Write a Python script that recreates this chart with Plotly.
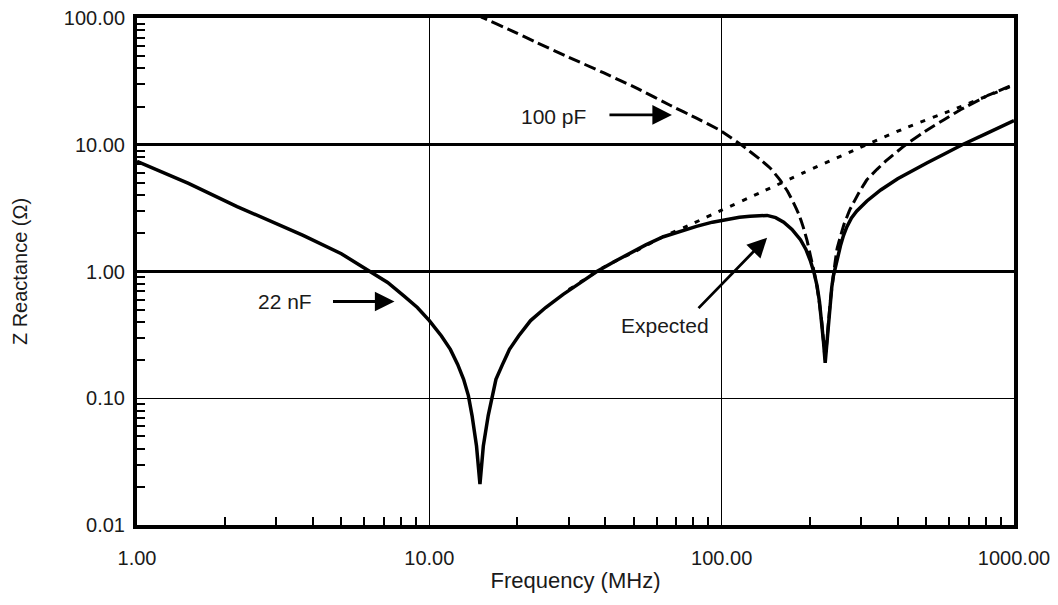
import numpy as np
import plotly.graph_objects as go

# ---------------- data ----------------
freq_meas = [1.0, 1.5, 2.2, 3.0, 3.7, 5.0, 6.3, 7.2, 8.2, 9.1, 10.0, 11.0, 11.8, 12.5, 13.1,
             13.6, 14.0, 14.5, 14.9, 15.3, 15.9, 16.4, 16.9, 17.8, 18.8, 20.2, 22.2, 25.0, 28.7,
             33.0, 37.4, 43.0, 48.6, 55.0, 63.2, 72.0, 82, 93, 105, 115, 125, 135, 143, 153, 163,
             174, 186, 194, 201, 207, 212, 216, 220, 223, 226, 229, 232, 235, 238, 241,
             245, 250, 255, 261, 268, 278, 290, 314, 350, 400, 450, 505, 580, 665, 800, 1000]
z_meas = [7.4, 4.95, 3.25, 2.4, 1.93, 1.38, 1.0, 0.82, 0.64, 0.52, 0.41, 0.31, 0.243, 0.185, 0.141,
          0.105, 0.073, 0.042, 0.021, 0.042, 0.073, 0.105, 0.141, 0.185, 0.243, 0.31, 0.41, 0.52, 0.66,
          0.82, 1.0, 1.2, 1.40, 1.62, 1.88, 2.08, 2.27, 2.45, 2.6, 2.68, 2.73, 2.77, 2.77, 2.66, 2.45,
          2.15, 1.78, 1.5, 1.22, 0.98, 0.77, 0.58, 0.40, 0.28, 0.19, 0.28, 0.40, 0.56, 0.75, 0.92,
          1.1, 1.35, 1.6, 1.92, 2.25, 2.65, 3.0, 3.6, 4.4, 5.4, 6.3, 7.2, 8.5, 10.0, 12.2, 15.5]

freq_100p = [14.5, 15.3, 19.0, 23.3, 30.0, 39.4, 52.0, 66.6, 82.0, 98.8, 118, 135, 147, 158,
             168, 176, 184, 190, 196, 201, 207, 212, 216, 220, 223, 226, 229, 232, 236, 240,
             244, 248, 255, 262, 275, 295, 314, 340, 368, 426, 505, 580, 656, 800, 1000]
z_100p = [107, 100, 80, 64, 49, 37, 27.5, 20.5, 16.2, 13.0, 9.8, 7.7, 6.5, 5.3,
          4.3, 3.5, 2.8, 2.25, 1.75, 1.35, 1.0, 0.75, 0.56, 0.40, 0.28, 0.20, 0.28, 0.40, 0.62, 0.85,
          1.15, 1.5, 1.9, 2.35, 3.1, 4.2, 5.3, 6.4, 7.6, 10.0, 13.1, 15.9, 18.9, 24.0, 30.0]

freq_exp = [30, 40, 50, 63, 80, 100, 135, 190, 282, 420, 622, 1000]
z_exp = [0.72, 1.1, 1.42, 1.88, 2.4, 3.05, 4.17, 6.0, 9.0, 13.4, 19.0, 29.5]

x_major = [1, 10, 100, 1000]
x_major_text = ["1.00", "10.00", "100.00", "1000.00"]
y_major = [0.01, 0.1, 1, 10, 100]
y_major_text = ["0.01", "0.10", "1.00", "10.00", "100.00"]
x_minor = [m * d for d in (1, 10, 100) for m in range(2, 10)]
y_minor = [m * d for d in (0.01, 0.1, 1, 10) for m in range(2, 10)]

# annotation anchor points (frequency MHz, reactance ohm)
lab_100p = (26.5, 16.6)
arr_100p = (67.6, 17.2)
lab_22n = (3.2, 0.58)
arr_22n = (7.6, 0.58)
lab_exp = (64, 0.376)
arr_exp = (143, 1.85)

FONT = "Liberation Sans, Arial, Helvetica, sans-serif"
INK = "#1a1a1a"

fig = go.Figure()
fig.add_trace(go.Scatter(x=freq_100p, y=z_100p, mode="lines", name="100 pF",
                         line=dict(color="black", width=3, dash="12px,5px", shape="spline", smoothing=0.25)))
fig.add_trace(go.Scatter(x=freq_exp, y=z_exp, mode="lines", name="Expected",
                         line=dict(color="black", width=3, dash="5px,8px", shape="spline", smoothing=0.5)))
fig.add_trace(go.Scatter(x=freq_meas, y=z_meas, mode="lines", name="22 nF",
                         line=dict(color="black", width=3.5, shape="linear")))
# invisible trace on the overlay axis so its (heavier) grid is drawn
fig.add_trace(go.Scatter(x=[1, 1000], y=[0.01, 100], mode="lines", yaxis="y2",
                         line=dict(width=0), hoverinfo="skip", showlegend=False))

fig.update_layout(
    width=1058, height=605,
    margin=dict(l=137, r=44, t=18, b=80),
    paper_bgcolor="white", plot_bgcolor="white",
    showlegend=False,
    font=dict(family=FONT, color=INK, size=20),
    xaxis=dict(type="log", range=[0, 3], automargin=False,
               tickvals=x_major, ticktext=x_major_text, ticks="",
               ticklabelstandoff=12, tickfont=dict(size=20),
               showgrid=True, gridcolor="black", gridwidth=1.2,
               showline=True, linecolor="black", linewidth=4, mirror=True,
               zeroline=False,
               minor=dict(tickvals=x_minor, ticks="inside", ticklen=8, tickwidth=1.6,
                          tickcolor="black", showgrid=False),
               title=dict(text="Frequency (MHz)", font=dict(size=22), standoff=6)),
    yaxis=dict(type="log", range=[-2, 2], automargin=False,
               tickvals=y_major, ticktext=y_major_text, ticks="",
               ticklabelstandoff=4, tickfont=dict(size=20),
               showgrid=True, gridcolor="black", gridwidth=1.2,
               showline=True, linecolor="black", linewidth=4, mirror=True,
               zeroline=False,
               minor=dict(tickvals=y_minor, ticks="inside", ticklen=8, tickwidth=2.2,
                          tickcolor="black", showgrid=False),
               title=dict(text="Z Reactance (Ω)", font=dict(size=20), standoff=32)),
    yaxis2=dict(type="log", range=[-2, 2], overlaying="y", side="left", automargin=False,
                tickvals=[1, 10], showticklabels=False, ticks="",
                showgrid=True, gridcolor="black", gridwidth=2.6,
                showline=False, zeroline=False),
)

def L(v):
    return float(np.log10(v))

annos = [
    dict(x=L(lab_100p[0]), y=L(lab_100p[1]), text="100 pF", showarrow=False,
         font=dict(size=21, family=FONT, color=INK)),
    dict(x=L(arr_100p[0]), y=L(arr_100p[1]), text="", showarrow=True, ax=-64, ay=0,
         arrowhead=2, arrowsize=1.4, arrowwidth=2.8, arrowcolor="black"),
    dict(x=L(lab_22n[0]), y=L(lab_22n[1]), text="22 nF", showarrow=False,
         font=dict(size=21, family=FONT, color=INK)),
    dict(x=L(arr_22n[0]), y=L(arr_22n[1]), text="", showarrow=True, ax=-63, ay=0,
         arrowhead=2, arrowsize=1.4, arrowwidth=2.8, arrowcolor="black"),
    dict(x=L(lab_exp[0]), y=L(lab_exp[1]), text="Expected", showarrow=False,
         font=dict(size=21, family=FONT, color=INK)),
    dict(x=L(arr_exp[0]), y=L(arr_exp[1]), text="", showarrow=True, ax=-70, ay=72,
         arrowhead=2, arrowsize=1.4, arrowwidth=2.8, arrowcolor="black"),
]
fig.update_layout(annotations=annos)

fig.write_html("out.html")
